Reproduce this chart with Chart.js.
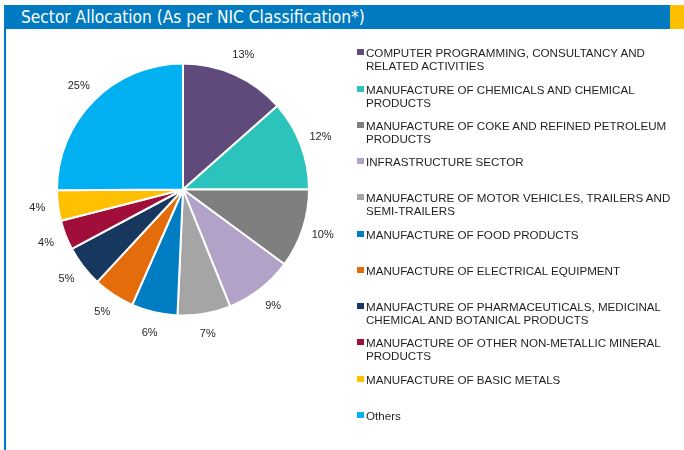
<!DOCTYPE html>
<html>
<head>
<meta charset="utf-8">
<script src="https://cdn.jsdelivr.net/npm/chart.js@4"></script>
<style>
    body { margin: 0; width: 684px; height: 450px; background: #fff; position: relative; overflow: hidden; font-family: "Liberation Sans", Arial, sans-serif; }
    #titleBar { position: absolute; left: 4px; top: 5px; width: 666px; height: 24px; background: #007BC2; }
    #titleBar span { position: absolute; left: 17px; top: 0; color: #fff; font-family: "DejaVu Sans Condensed", sans-serif; font-size: 17.2px; line-height: 24px; }
    #yellowTab { position: absolute; left: 670px; top: 5px; width: 14px; height: 24px; background: #FFC000; }
    #leftLine { position: absolute; left: 4px; top: 29px; width: 2px; height: 421px; background: #007BC2; }
    #pieCanvas { position: absolute; left: 7px; top: 29px; }
    .legendItem { position: absolute; left: 357px; width: 325px; font-size: 11.6px; line-height: 13px; color: #1f1f1f; }
    .legendItem i { position: absolute; left: 0; top: 3px; width: 7px; height: 6px; }
    .legendItem div { margin-left: 9px; width: 314px; }
</style>
</head>
<body>
<div id="titleBar"><span>Sector Allocation (As per NIC Classification*)</span></div>
<div id="yellowTab"></div>
<div id="leftLine"></div>
<canvas id="pieCanvas" width="352" height="321"></canvas>
<div id="legend"></div>
<script>
    const sectors = [
        'COMPUTER PROGRAMMING, CONSULTANCY AND RELATED ACTIVITIES',
        'MANUFACTURE OF CHEMICALS AND CHEMICAL PRODUCTS',
        'MANUFACTURE OF COKE AND REFINED PETROLEUM PRODUCTS',
        'INFRASTRUCTURE SECTOR',
        'MANUFACTURE OF MOTOR VEHICLES, TRAILERS AND SEMI-TRAILERS',
        'MANUFACTURE OF FOOD PRODUCTS',
        'MANUFACTURE OF ELECTRICAL EQUIPMENT',
        'MANUFACTURE OF PHARMACEUTICALS, MEDICINAL CHEMICAL AND BOTANICAL PRODUCTS',
        'MANUFACTURE OF OTHER NON-METALLIC MINERAL PRODUCTS',
        'MANUFACTURE OF BASIC METALS',
        'Others'
    ];
    // % of net assets (labels show them rounded)
    const allocation = [13.45, 11.55, 10.1, 8.8, 6.8, 5.9, 5.3, 5.3, 3.8, 3.9, 25.1];
    const sliceColors = ['#604A7B', '#2CC3BC', '#7F7F7F', '#B3A2C7', '#A5A5A5', '#007DC3',
                         '#E46C0A', '#17375E', '#A10E3A', '#FFC000', '#00B0F0'];

    // legend built by hand so the long names can wrap like the original
    const legend = document.getElementById('legend');
    sectors.forEach(function(name, i) {
        const item = document.createElement('div');
        item.className = 'legendItem';
        item.style.top = (46.4 + 36.24 * i) + 'px';
        item.innerHTML = '<i style="background:' + sliceColors[i] + '"></i><div>' + name + '</div>';
        legend.appendChild(item);
    });

    // percent labels outside each slice
    const outsideLabels = {
        id: 'outsideLabels',
        afterDatasetsDraw: function(chart) {
            const ctx = chart.ctx;
            const meta = chart.getDatasetMeta(0);
            ctx.save();
            ctx.font = '11px "Liberation Sans", Arial, sans-serif';
            ctx.fillStyle = '#262626';
            ctx.textAlign = 'center';
            ctx.textBaseline = 'middle';
            meta.data.forEach(function(arc, i) {
                const p = arc.getProps(['x', 'y', 'startAngle', 'endAngle', 'outerRadius'], true);
                const mid = (p.startAngle + p.endAngle) / 2;
                const r = p.outerRadius + 21;
                ctx.fillText(Math.round(allocation[i]) + '%', p.x + Math.cos(mid) * r, p.y + Math.sin(mid) * r);
            });
            ctx.restore();
        }
    };

    new Chart(document.getElementById('pieCanvas').getContext('2d'), {
        type: 'pie',
        data: {
            labels: sectors,
            datasets: [{
                data: allocation,
                backgroundColor: sliceColors,
                borderColor: '#ffffff',
                borderWidth: 2,
                hoverOffset: 0
            }]
        },
        options: {
            responsive: false,
            animation: false,
            radius: 126,
            layout: { padding: 0 },
            plugins: {
                legend: { display: false },
                tooltip: { enabled: false }
            }
        },
        plugins: [outsideLabels]
    });
</script>
</body>
</html>
